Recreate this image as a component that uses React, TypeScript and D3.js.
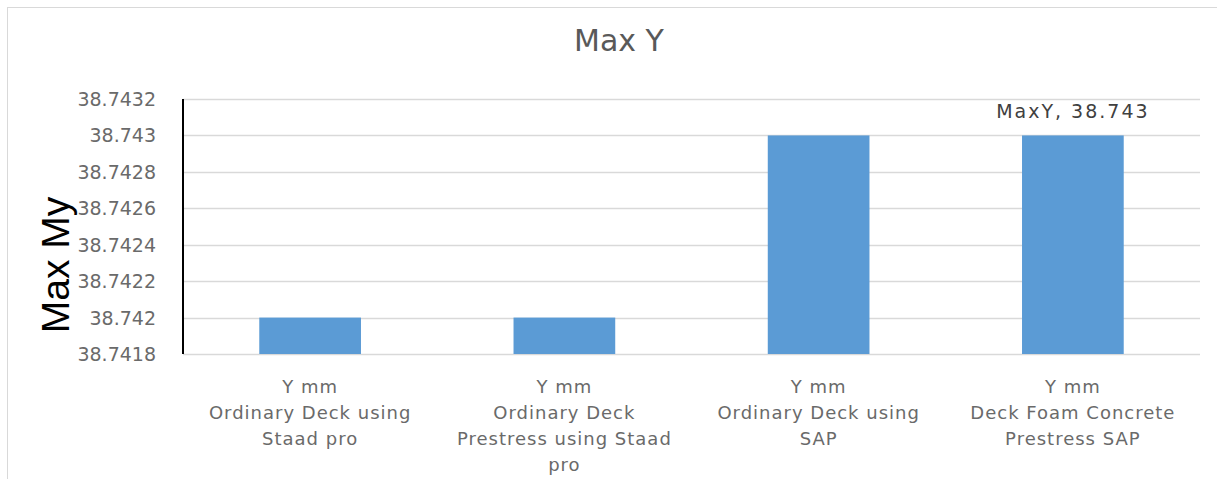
import React from "react";
import * as d3 from "d3";

// Chart data
const categories: string[][] = [
  ["Y mm", "Ordinary Deck using", "Staad pro"],
  ["Y mm", "Ordinary Deck", "Prestress using Staad", "pro"],
  ["Y mm", "Ordinary Deck using", "SAP"],
  ["Y mm", "Deck Foam Concrete", "Prestress SAP"],
];
const values: number[] = [38.742, 38.742, 38.743, 38.743];
const yTicks: number[] = [38.7418, 38.742, 38.7422, 38.7424, 38.7426, 38.7428, 38.743, 38.7432];
const labelledIndex = 3;
const seriesName = "MaxY";

const W = 1226;
const H = 479;
const plot = { left: 183, right: 1200, top: 99, bottom: 354 };

export default function App() {
  const x = d3
    .scaleBand<number>()
    .domain(values.map((_, i) => i))
    .range([plot.left, plot.right])
    .paddingInner(0.6)
    .paddingOuter(0.3);
  const y = d3.scaleLinear().domain([38.7418, 38.7432]).range([plot.bottom, plot.top]);
  const tickFmt = (v: number) => d3.format(".4f")(v).replace(/0+$/, "");

  return (
    <svg
      width={W}
      height={H}
      style={{ position: "absolute", left: 0, top: 0, background: "#fff" }}
      fontFamily="DejaVu Sans"
    >
      {/* chart frame */}
      <line x1={7} y1={7.5} x2={1217} y2={7.5} stroke="#d9d9d9" />
      <line x1={7.5} y1={7} x2={7.5} y2={H} stroke="#d9d9d9" />

      <text x={619} y={51} textAnchor="middle" fontSize={30} fill="#595959">
        Max Y
      </text>

      {/* gridlines */}
      {yTicks.map((t) => (
        <line
          key={t}
          x1={plot.left}
          x2={plot.right}
          y1={Math.round(y(t)) + 0.5}
          y2={Math.round(y(t)) + 0.5}
          stroke="#d9d9d9"
          strokeWidth={1.5}
        />
      ))}

      {/* bars */}
      {values.map((v, i) => (
        <rect
          key={i}
          x={x(i)}
          width={x.bandwidth()}
          y={y(v)}
          height={y(38.7418) - y(v)}
          fill="#5b9bd5"
        />
      ))}

      {/* y axis */}
      <line x1={183} x2={183} y1={plot.top} y2={plot.bottom} stroke="#000" strokeWidth={2} />
      {yTicks.map((t) => (
        <text
          key={t}
          x={156}
          y={y(t) + 7}
          textAnchor="end"
          fontSize={19}
          fill="#6a6a6a"
        >
          {tickFmt(t)}
        </text>
      ))}

      {/* category labels */}
      {categories.map((lines, i) => (
        <text
          key={i}
          textAnchor="middle"
          fontSize={18}
          letterSpacing={1}
          fill="#6a6a6a"
        >
          {lines.map((ln, j) => (
            <tspan key={j} x={(x(i) as number) + x.bandwidth() / 2} y={393 + j * 26}>
              {ln}
            </tspan>
          ))}
        </text>
      ))}

      {/* data label */}
      <text
        x={(x(labelledIndex) as number) + x.bandwidth() / 2}
        y={y(values[labelledIndex]) - 17}
        textAnchor="middle"
        fontSize={19}
        letterSpacing={2}
        fill="#404040"
      >
        {`${seriesName}, ${values[labelledIndex]}`}
      </text>

      {/* y axis title */}
      <text
        transform="translate(69,265) rotate(-90)"
        textAnchor="middle"
        fontSize={39}
        fontFamily="Liberation Sans"
        fill="#000"
      >
        Max My
      </text>
    </svg>
  );
}
